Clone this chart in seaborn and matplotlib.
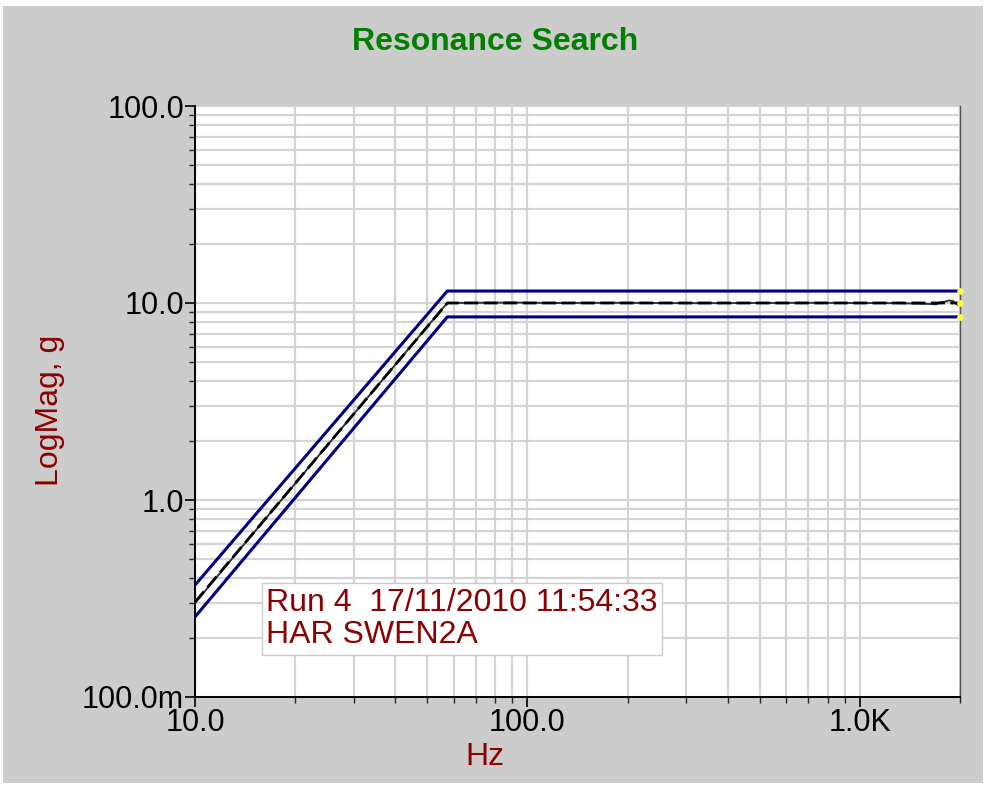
import matplotlib
matplotlib.use("Agg")
import matplotlib.pyplot as plt
import matplotlib.ticker as mticker
from matplotlib.patches import Rectangle
import numpy as np
import pandas as pd
import seaborn as sns

# reference profile (Hz, g) and tolerance bands
ref_freq = [10.0, 57.4, 2000.0]
ref_mag = [0.303, 10.0, 10.0]
upper_mag = [0.37, 11.5, 11.5]
lower_mag = [0.255, 8.5, 8.5]

meas_freq = [10.0, 15.0, 20.0, 30.0, 40.0, 50.0, 57.4, 70.0, 90.0, 120.0, 200.0, 300.0,
             500.0, 700.0, 1000.0, 1300.0, 1600.0, 1700.0, 1750.0, 1800.0, 1850.0,
             1900.0, 1950.0, 1980.0, 2000.0]
meas_mag = [0.30, 0.68, 1.21, 2.73, 4.85, 7.6, 10.0, 10.02, 10.05, 10.0, 10.02, 9.98,
            10.0, 10.02, 10.0, 9.98, 9.9, 9.85, 10.1, 10.15, 10.3, 10.25, 9.9, 9.75, 9.8]

ytick_vals = [0.1, 1.0, 10.0, 100.0]
ytick_labels = ["100.0m", "1.0", "10.0", "100.0"]
xtick_vals = [10.0, 100.0, 1000.0]
xtick_labels = ["10.0", "100.0", "1.0K"]

run_label = "Run 4  17/11/2010 11:54:33\nHAR SWEN2A"

sns.set_style("white")
plt.rcParams["font.family"] = ["Liberation Sans", "DejaVu Sans"]

dark_red = "#8b0000"
navy = "#000080"

fig = plt.figure(figsize=(9.88, 7.88), dpi=100, facecolor="white")
fig.patches.append(Rectangle((3 / 988, 5 / 788), 980 / 988, 777 / 788,
                             transform=fig.transFigure, facecolor="#cccccc",
                             edgecolor="none", zorder=-10))
ax = fig.add_axes([195 / 988, 91 / 788, 765 / 988, 591 / 788])
ax.set_facecolor("white")

bands = pd.DataFrame({"f": ref_freq, "up": upper_mag, "lo": lower_mag, "ref": ref_mag})
meas = pd.DataFrame({"f": meas_freq, "g": meas_mag})

sns.lineplot(data=bands, x="f", y="up", ax=ax, color=navy, lw=2.2, zorder=3)
sns.lineplot(data=bands, x="f", y="lo", ax=ax, color=navy, lw=2.2, zorder=3)
sns.lineplot(data=meas, x="f", y="g", ax=ax, color="#333333", lw=1.4, zorder=4)
sns.lineplot(data=bands, x="f", y="ref", ax=ax, color="black", lw=2.0,
             linestyle=(0, (5, 2)), zorder=5)

# small yellow end markers
ax.scatter([ref_freq[-1]] * 3, [upper_mag[-1], ref_mag[-1], lower_mag[-1]],
           s=14, color="#ffff33", zorder=6, clip_on=False)

ax.set_xscale("log")
ax.set_yscale("log")
ax.set_xlim(10, 2000)
ax.set_ylim(0.1, 100)

ax.set_yticks(ytick_vals)
ax.set_yticklabels(ytick_labels)
ax.set_xticks(xtick_vals)
ax.set_xticklabels(xtick_labels)
ax.xaxis.set_minor_locator(mticker.LogLocator(base=10, subs=np.arange(2, 10)))
ax.yaxis.set_minor_locator(mticker.LogLocator(base=10, subs=np.arange(2, 10)))
ax.xaxis.set_minor_formatter(mticker.NullFormatter())
ax.yaxis.set_minor_formatter(mticker.NullFormatter())

ax.tick_params(axis="both", which="major", direction="out", length=7, width=1.2,
               labelsize=22, colors="black", pad=1)
ax.tick_params(axis="both", which="minor", direction="out", length=4, width=1.0)
ax.tick_params(axis="both", which="both", bottom=True, left=True)

ax.grid(True, which="both", color="#d4d4d4", lw=1.6)
ax.set_axisbelow(True)

ax.spines["top"].set_visible(False)
ax.spines["right"].set_color("#555555")
ax.spines["right"].set_linewidth(1.0)
for side in ["left", "bottom"]:
    ax.spines[side].set_color("black")
    ax.spines[side].set_linewidth(1.4)

ax.set_xlabel("Hz", fontsize=23, color=dark_red)
ax.xaxis.set_label_coords((485 - 195) / 765, -(757 - 697) / 591)
ax.xaxis.label.set_va("center")
ax.set_ylabel("LogMag, g", fontsize=23, color=dark_red)
ax.yaxis.set_label_coords(-(195 - 50) / 765, (697 - 410) / 591)
ax.yaxis.label.set_va("center")

fig.text(495 / 988, 1 - 42 / 788, "Resonance Search", ha="center", va="center",
         fontsize=23, fontweight="bold", color="#008000")

ax.text(0.093, 0.132, run_label, transform=ax.transAxes, fontsize=23,
        color=dark_red, va="center", ha="left", linespacing=1.1, zorder=7,
        bbox=dict(boxstyle="square,pad=0.14", facecolor="white",
                  edgecolor="#cccccc", lw=1.0))

fig.savefig("out.png", dpi=100, facecolor=fig.get_facecolor())
